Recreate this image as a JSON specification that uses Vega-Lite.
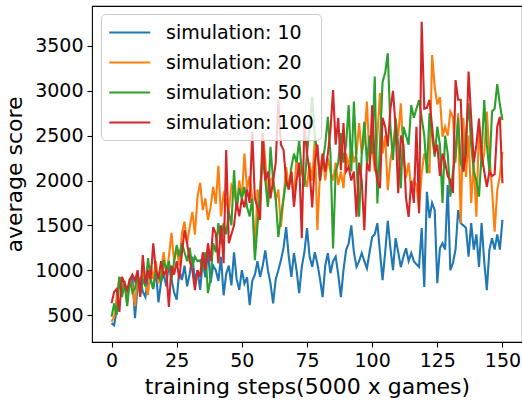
{
"$schema":"https://vega.github.io/schema/vega-lite/v6.json",
"width":430,"height":336,
"autosize":{"type":"none"},
"padding":{"left":92,"top":6,"right":0,"bottom":59},
"config":{"font":"DejaVu Sans","view":{"stroke":"#000000","strokeWidth":1.1}},
"data":{"values":[
{"t":0,"a":410,"b":424,"c":480,"d":630},{"t":1,"a":385,"b":480,"c":630,"d":758},{"t":2,"a":560,"b":700,"c":500,"d":790},{"t":3,"a":920,"b":925,"c":925,"d":535},{"t":4,"a":780,"b":750,"c":700,"d":925},{"t":5,"a":880,"b":880,"c":850,"d":850},{"t":6,"a":700,"b":620,"c":600,"d":780},{"t":7,"a":860,"b":900,"c":900,"d":900},{"t":8,"a":930,"b":820,"c":750,"d":950},{"t":9,"a":465,"b":600,"c":800,"d":880},
{"t":10,"a":830,"b":950,"c":950,"d":1000},{"t":11,"a":900,"b":780,"c":720,"d":702},{"t":12,"a":760,"b":1000,"c":900,"d":1168},{"t":13,"a":700,"b":850,"c":820,"d":850},{"t":14,"a":950,"b":720,"c":1134,"d":1000},{"t":15,"a":880,"b":1050,"c":900,"d":900},{"t":16,"a":790,"b":900,"c":800,"d":1298},{"t":17,"a":1000,"b":1100,"c":1000,"d":1000},{"t":18,"a":640,"b":850,"c":950,"d":900},{"t":19,"a":870,"b":1000,"c":870,"d":1100},
{"t":20,"a":960,"b":1200,"c":1112,"d":950},{"t":21,"a":820,"b":950,"c":1000,"d":1000},{"t":22,"a":1080,"b":1150,"c":1100,"d":590},{"t":23,"a":900,"b":1417,"c":890,"d":1050},{"t":24,"a":750,"b":1100,"c":1100,"d":950},{"t":25,"a":670,"b":1250,"c":1280,"d":1100},{"t":26,"a":1000,"b":1050,"c":1150,"d":900},{"t":27,"a":890,"b":1410,"c":1300,"d":1186},{"t":28,"a":1050,"b":1540,"c":1200,"d":1447},{"t":29,"a":820,"b":1300,"c":1100,"d":1300},
{"t":30,"a":960,"b":1483,"c":1250,"d":1100},{"t":31,"a":1150,"b":1650,"c":1037,"d":1000},{"t":32,"a":880,"b":1400,"c":1150,"d":777},{"t":33,"a":1000,"b":1820,"c":1100,"d":1000},{"t":34,"a":780,"b":1975,"c":1112,"d":925},{"t":35,"a":1100,"b":1670,"c":1000,"d":1200},{"t":36,"a":920,"b":1800,"c":1200,"d":1000},{"t":37,"a":1220,"b":1560,"c":744,"d":1300},{"t":38,"a":860,"b":1700,"c":900,"d":1100},{"t":39,"a":1050,"b":1930,"c":1300,"d":1480},
{"t":40,"a":1000,"b":1740,"c":1200,"d":1410},{"t":41,"a":880,"b":2164,"c":1524,"d":1075},{"t":42,"a":1150,"b":1600,"c":1300,"d":1500},{"t":43,"a":720,"b":1850,"c":1524,"d":1078},{"t":44,"a":960,"b":1780,"c":1400,"d":2340},{"t":45,"a":1050,"b":1650,"c":1650,"d":1300},{"t":46,"a":830,"b":1950,"c":1500,"d":1400},{"t":47,"a":1200,"b":1890,"c":2115,"d":1500},{"t":48,"a":900,"b":1700,"c":1670,"d":1760},{"t":49,"a":780,"b":2000,"c":1915,"d":1600},
{"t":50,"a":1000,"b":1800,"c":1800,"d":1800},{"t":51,"a":850,"b":2300,"c":1930,"d":1700},{"t":52,"a":920,"b":1900,"c":1700,"d":1900},{"t":53,"a":610,"b":2050,"c":1600,"d":1750},{"t":54,"a":880,"b":1800,"c":1800,"d":2544},{"t":55,"a":950,"b":1204,"c":1112,"d":1800},{"t":56,"a":1100,"b":1900,"c":1500,"d":1700},{"t":57,"a":925,"b":1780,"c":1900,"d":1560},{"t":58,"a":1050,"b":2530,"c":2265,"d":2530},{"t":59,"a":1220,"b":2228,"c":2000,"d":2000},
{"t":60,"a":1000,"b":1707,"c":1707,"d":2100},{"t":61,"a":850,"b":2000,"c":2375,"d":1800},{"t":62,"a":630,"b":2040,"c":2000,"d":2000},{"t":63,"a":900,"b":1780,"c":1800,"d":2195},{"t":64,"a":1000,"b":1900,"c":1370,"d":2900},{"t":65,"a":1110,"b":1483,"c":1600,"d":2400},{"t":66,"a":1250,"b":1800,"c":1800,"d":2340},{"t":67,"a":1480,"b":2153,"c":2000,"d":2000},{"t":68,"a":1150,"b":1930,"c":1900,"d":1900},{"t":69,"a":925,"b":2100,"c":2150,"d":2100},
{"t":70,"a":1190,"b":1780,"c":2300,"d":1707},{"t":71,"a":1000,"b":2250,"c":2200,"d":2000},{"t":72,"a":744,"b":2040,"c":2450,"d":2200},{"t":73,"a":1037,"b":2150,"c":2100,"d":1357},{"t":74,"a":1200,"b":2040,"c":1930,"d":2637},{"t":75,"a":1470,"b":1930,"c":2300,"d":2300},{"t":76,"a":1150,"b":2200,"c":2600,"d":2100},{"t":77,"a":1037,"b":2000,"c":2934,"d":1700},{"t":78,"a":1200,"b":2450,"c":2500,"d":2200},{"t":79,"a":1070,"b":1447,"c":2300,"d":2400},
{"t":80,"a":900,"b":2100,"c":2000,"d":2000},{"t":81,"a":700,"b":2300,"c":2200,"d":2300},{"t":82,"a":1050,"b":2000,"c":2400,"d":2100},{"t":83,"a":1190,"b":2250,"c":2710,"d":2300},{"t":84,"a":966,"b":2100,"c":2300,"d":2560},{"t":85,"a":1100,"b":2000,"c":1242,"d":3009},{"t":86,"a":1150,"b":2200,"c":2100,"d":2400},{"t":87,"a":950,"b":1950,"c":2200,"d":2700},{"t":88,"a":700,"b":2100,"c":2530,"d":2115},{"t":89,"a":1000,"b":1915,"c":2200,"d":2640},
{"t":90,"a":1224,"b":2300,"c":2400,"d":2100},{"t":91,"a":1300,"b":2150,"c":2840,"d":2150},{"t":92,"a":1500,"b":2400,"c":2100,"d":2000},{"t":93,"a":1200,"b":2200,"c":2880,"d":2100},{"t":94,"a":1037,"b":2300,"c":2200,"d":1595},{"t":95,"a":1100,"b":2640,"c":1595,"d":2200},{"t":96,"a":1190,"b":2300,"c":2300,"d":2000},{"t":97,"a":1100,"b":2460,"c":2655,"d":1447},{"t":98,"a":1020,"b":2880,"c":2200,"d":2200},{"t":99,"a":1200,"b":2200,"c":2500,"d":2100},
{"t":100,"a":1370,"b":2400,"c":2300,"d":2840},{"t":101,"a":1400,"b":2100,"c":3160,"d":2200},{"t":102,"a":1524,"b":2500,"c":1745,"d":2000},{"t":103,"a":1200,"b":2975,"c":2400,"d":1915},{"t":104,"a":890,"b":2300,"c":3100,"d":2700},{"t":105,"a":1200,"b":2500,"c":3200,"d":2600},{"t":106,"a":1550,"b":1893,"c":3420,"d":2380},{"t":107,"a":1250,"b":2220,"c":2600,"d":2800},{"t":108,"a":1000,"b":2400,"c":2228,"d":3000},{"t":109,"a":1357,"b":2600,"c":2700,"d":2600},
{"t":110,"a":1200,"b":2500,"c":2400,"d":1857},{"t":111,"a":1034,"b":2860,"c":1915,"d":2500},{"t":112,"a":1150,"b":2300,"c":2600,"d":2400},{"t":113,"a":1245,"b":2030,"c":2500,"d":1800},{"t":114,"a":1100,"b":2200,"c":2400,"d":1595},{"t":115,"a":1190,"b":1890,"c":2840,"d":2000},{"t":116,"a":1100,"b":2000,"c":2700,"d":1750},{"t":117,"a":1065,"b":1950,"c":2800,"d":2600},{"t":118,"a":1037,"b":1670,"c":2897,"d":1635},{"t":119,"a":1469,"b":2080,"c":2700,"d":3770},
{"t":120,"a":813,"b":2300,"c":2500,"d":2800},{"t":121,"a":1874,"b":2200,"c":2080,"d":2810},{"t":122,"a":1580,"b":2080,"c":2750,"d":2900},{"t":123,"a":1750,"b":3400,"c":2500,"d":2600},{"t":124,"a":1670,"b":3045,"c":2265,"d":2300},{"t":125,"a":855,"b":2850,"c":2600,"d":2400},{"t":126,"a":1245,"b":2930,"c":2400,"d":2050},{"t":127,"a":1300,"b":2488,"c":1750,"d":2300},{"t":128,"a":1230,"b":2600,"c":2500,"d":2200},{"t":129,"a":1950,"b":2500,"c":2300,"d":2050},
{"t":130,"a":1000,"b":2770,"c":1820,"d":2000},{"t":131,"a":1080,"b":2710,"c":2100,"d":1860},{"t":132,"a":1230,"b":2200,"c":2280,"d":3120},{"t":133,"a":1670,"b":2750,"c":2700,"d":2900},{"t":134,"a":1524,"b":1524,"c":2200,"d":2900},{"t":135,"a":1500,"b":2700,"c":2100,"d":2100},{"t":136,"a":1470,"b":2040,"c":2500,"d":2300},{"t":137,"a":1150,"b":2500,"c":2860,"d":3215},{"t":138,"a":1524,"b":1750,"c":2400,"d":2700},{"t":139,"a":1230,"b":2200,"c":2100,"d":2200},
{"t":140,"a":1400,"b":1595,"c":2000,"d":2400},{"t":141,"a":1037,"b":2600,"c":1820,"d":2690},{"t":142,"a":1524,"b":2150,"c":2300,"d":2300},{"t":143,"a":1100,"b":2300,"c":2897,"d":2100},{"t":144,"a":777,"b":2770,"c":2400,"d":1930},{"t":145,"a":1230,"b":2300,"c":2100,"d":2100},{"t":146,"a":1357,"b":1900,"c":2770,"d":2050},{"t":147,"a":1230,"b":1430,"c":2800,"d":2070},{"t":148,"a":1400,"b":1890,"c":3076,"d":2600},{"t":149,"a":1230,"b":2050,"c":2850,"d":2710},
{"t":150,"a":1560,"b":2320,"c":2674,"d":1970}
]},
"transform":[{"fold":["a","b","c","d"],"as":["k","v"]}],
"mark":{"type":"line","strokeWidth":2.1,"clip":true},
"encoding":{
"x":{"field":"t","type":"quantitative","scale":{"domain":[-7.5,157.5],"nice":false,"zero":false},
"axis":{"values":[0,25,50,75,100,125,150],"format":"d","title":"training steps(5000 x games)","titleFontSize":22,"titleFontWeight":"normal","titleColor":"#000000","titlePadding":6,"labelFontSize":19,"labelColor":"#000000","tickColor":"#000000","tickSize":5,"tickWidth":1.1,"labelPadding":4,"domain":false,"grid":false,"labelFlush":false}},
"y":{"field":"v","type":"quantitative","scale":{"domain":[199,3946],"nice":false,"zero":false},
"axis":{"values":[500,1000,1500,2000,2500,3000,3500],"format":"d","title":"average score","titleFontSize":22,"titleFontWeight":"normal","titleColor":"#000000","titlePadding":8,"labelFontSize":19,"labelColor":"#000000","tickColor":"#000000","tickSize":5,"tickWidth":1.1,"labelPadding":4,"domain":false,"grid":false,"labelFlush":false}},
"color":{"field":"k","type":"nominal","scale":{"domain":["a","b","c","d"],"range":["#1f77b4","#ff7f0e","#2ca02c","#d62728"]},
"legend":{"title":null,"orient":"none","legendX":9,"legendY":8,"direction":"vertical","padding":7,"strokeColor":"#cccccc","fillColor":"rgba(255,255,255,0.8)","cornerRadius":4,"symbolType":"M-1,0H3","symbolSize":420,"symbolStrokeWidth":2.1,"symbolFillColor":"transparent","labelOffset":35,"labelFontSize":19,"labelColor":"#000000","rowPadding":8,
"labelExpr":"datum.label == 'a' ? 'simulation: 10' : datum.label == 'b' ? 'simulation: 20' : datum.label == 'c' ? 'simulation: 50' : 'simulation: 100'"}}
}
}
